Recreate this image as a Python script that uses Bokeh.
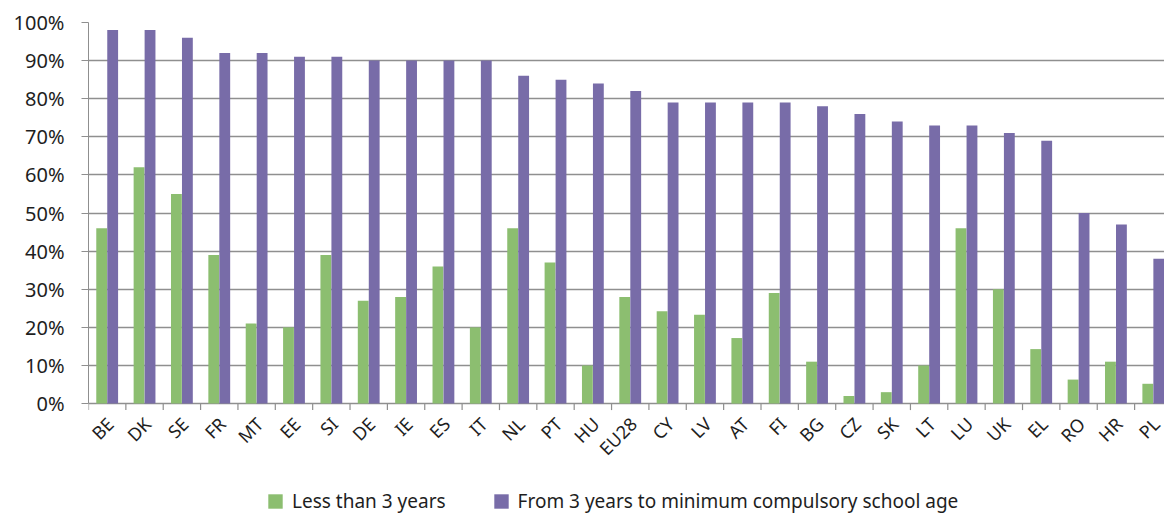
import math
import numpy as np
from bokeh.plotting import figure
from bokeh.models import (Range1d, FixedTicker, Legend, LegendItem,
                          ColumnDataSource, PrintfTickFormatter)
from bokeh.transform import dodge
from bokeh.embed import file_html
from bokeh.resources import INLINE

countries = ["BE", "DK", "SE", "FR", "MT", "EE", "SI", "DE", "IE", "ES", "IT", "NL",
             "PT", "HU", "EU28", "CY", "LV", "AT", "FI", "BG", "CZ", "SK", "LT", "LU",
             "UK", "EL", "RO", "HR", "PL"]
less_than_3 = [46, 62, 55, 39, 21, 20, 39, 27, 28, 36, 20, 46, 37, 10, 28, 24.2, 23.3,
               17.2, 29, 11, 2, 3, 10, 46, 30, 14.3, 6.3, 11, 5.2]
from_3_to_school = [98, 98, 96, 92, 92, 91, 91, 90, 90, 90, 90, 86, 85, 84, 82, 79, 79,
                    79, 79, 78, 76, 74, 73, 73, 71, 69, 50, 47, 38]
y_ticks = list(range(0, 101, 10))
series_names = ["Less than 3 years", "From 3 years to minimum compulsory school age"]

GREEN = "#8cbe70"
PURPLE = "#786ca8"
GRID = "#8f8f8f"
TEXT = "#1e1e1e"
FONT = "Noto Sans"

n = len(countries)
centers = (np.arange(n) + 0.5).tolist()
bounds = np.arange(n + 1).tolist()
src = ColumnDataSource(dict(x=centers, a=less_than_3, b=from_3_to_school,
                            name=countries, zero=[0] * n))
tick_src = ColumnDataSource(dict(x=bounds, y0=[0] * (n + 1), y1=[-1.7] * (n + 1)))

p = figure(width=1164, height=514, x_range=Range1d(0, 28.8), y_range=Range1d(-29.1, 100),
           output_backend="svg", toolbar_location=None, x_axis_location=None,
           min_border_left=88, min_border_top=22, min_border_right=0,
           min_border_bottom=0)
p.outline_line_color = None

r1 = p.vbar(x=dodge("x", -0.147), top="a", width=0.29, source=src,
            fill_color=GREEN, line_color=None)
r2 = p.vbar(x=dodge("x", 0.147), top="b", width=0.29, source=src,
            fill_color=PURPLE, line_color=None)

# category boundary ticks below the baseline
p.segment(x0="x", y0="y0", x1="x", y1="y1", source=tick_src,
          line_color=GRID, line_width=1.2)

# rotated category labels
p.text(x="x", y="zero", text="name", source=src, angle=math.pi / 4,
       text_align="right", text_baseline="middle", x_offset=3, y_offset=17,
       text_font={"value": FONT}, text_font_size="18px", text_color=TEXT)

# y axis
ya = p.yaxis[0]
ya.bounds = (0, 100)
ya.ticker = FixedTicker(ticks=y_ticks, minor_ticks=[])
ya.formatter = PrintfTickFormatter(format="%d%%")
ya.axis_line_color = GRID
ya.major_tick_line_color = GRID
ya.major_tick_out = 7
ya.major_tick_in = 0
ya.major_label_text_font = FONT
ya.major_label_text_font_size = "20px"
ya.major_label_text_color = TEXT
ya.major_label_standoff = 17

p.xgrid.grid_line_color = None
p.ygrid.grid_line_color = GRID
p.ygrid.grid_line_width = 1.3
p.ygrid.ticker = FixedTicker(ticks=y_ticks)

legend = Legend(items=[LegendItem(label=series_names[0], renderers=[r1]),
                       LegendItem(label=series_names[1], renderers=[r2])],
                orientation="horizontal", location=(178, 0),
                border_line_color=None, background_fill_alpha=0,
                padding=0, margin=0, spacing=46, label_standoff=8,
                glyph_width=18, glyph_height=18, label_height=18,
                label_text_font=FONT, label_text_font_size="19px",
                label_text_color=TEXT, label_text_baseline="middle")
p.add_layout(legend)

open("out.html", "w").write(file_html(p, INLINE))
